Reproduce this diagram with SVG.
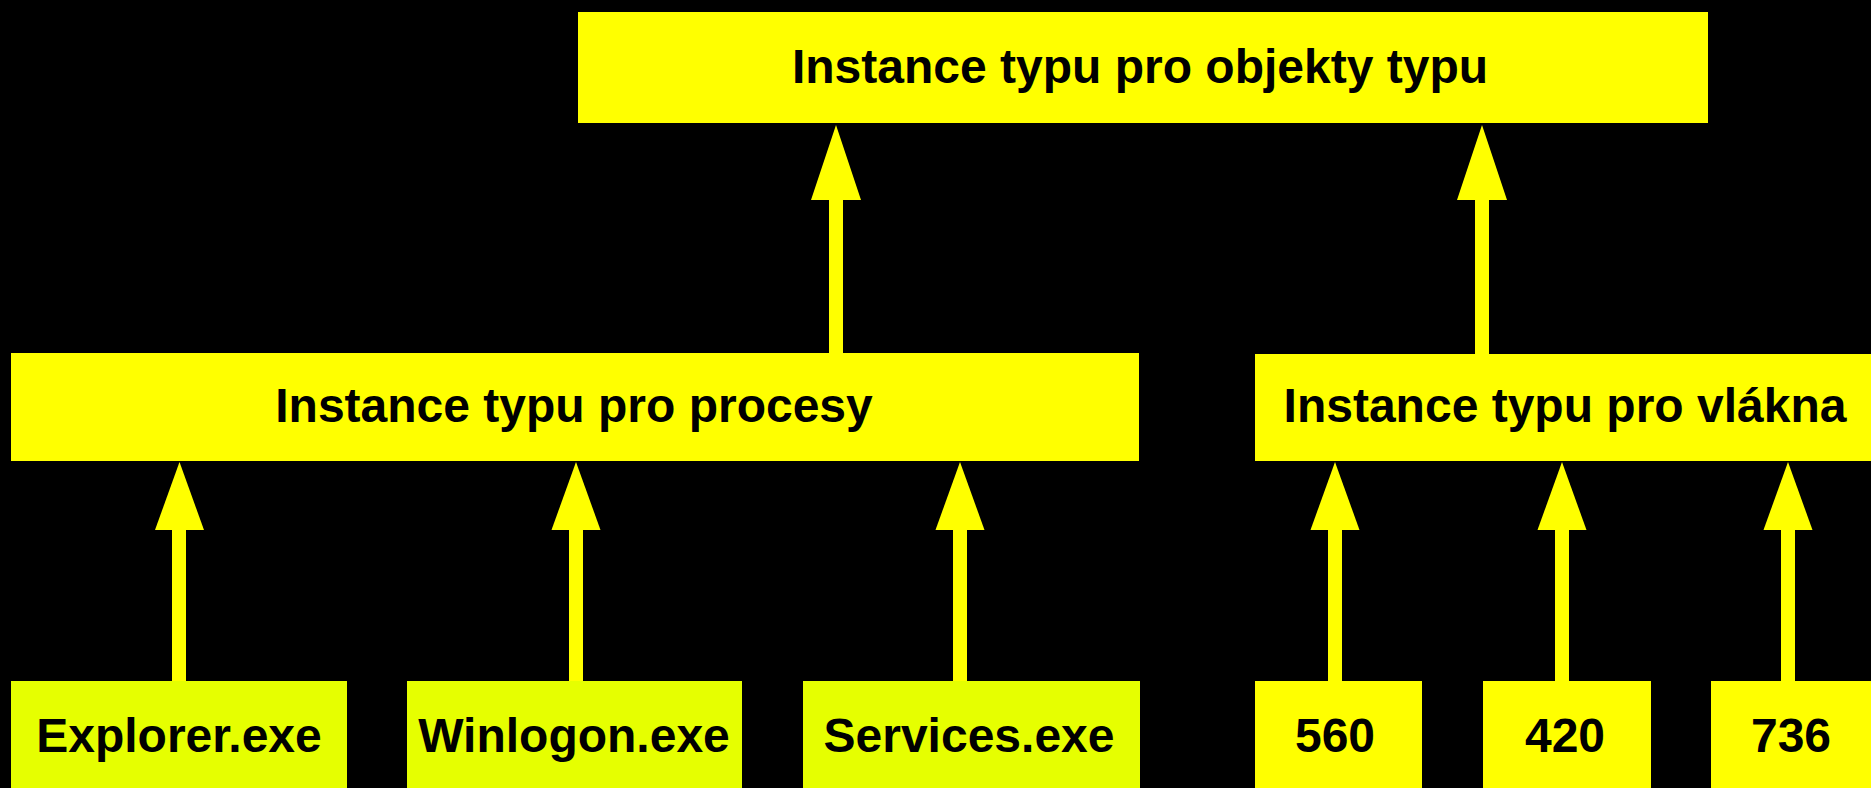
<svg xmlns="http://www.w3.org/2000/svg" width="1871" height="788" viewBox="0 0 1871 788">
  <style>
    .box { fill: #ffff00; }
    .box2 { fill: #e6ff00; }
    .lbl { font-family: "Liberation Sans", Arial, sans-serif; font-weight: bold; font-size: 48px; fill: #000000; text-anchor: middle; }
    .arr { fill: #ffff00; }
  </style>
  <rect x="0" y="0" width="1871" height="788" fill="#000000"/>
  <g id="connectors">
    <g class="arr">
      <rect x="829" y="195" width="14" height="158"/>
      <polygon points="836,125 861,200 811,200"/>
      <rect x="1475" y="195" width="14" height="159"/>
      <polygon points="1482,125 1507,200 1457,200"/>
      <rect x="172" y="525" width="14" height="156"/>
      <polygon points="179.5,462 204,530 155,530"/>
      <rect x="569" y="525" width="14" height="156"/>
      <polygon points="576,462 600.5,530 551.5,530"/>
      <rect x="953" y="525" width="14" height="156"/>
      <polygon points="960,462 984.5,530 935.5,530"/>
      <rect x="1328" y="525" width="14" height="156"/>
      <polygon points="1335,462 1359.5,530 1310.5,530"/>
      <rect x="1555" y="525" width="14" height="156"/>
      <polygon points="1562,462 1586.5,530 1537.5,530"/>
      <rect x="1781" y="525" width="14" height="156"/>
      <polygon points="1788,462 1812.5,530 1763.5,530"/>
    </g>
  </g>
  <g id="node-top">
    <rect class="box" x="578" y="12" width="1130" height="111"/>
    <text class="lbl" x="1140" y="83">Instance typu pro objekty typu</text>
  </g>
  <g id="node-procesy">
    <rect class="box" x="11" y="353" width="1128" height="108"/>
    <text class="lbl" x="574" y="422">Instance typu pro procesy</text>
  </g>
  <g id="node-vlakna">
    <rect class="box" x="1255" y="354" width="625" height="107"/>
    <text class="lbl" x="1565" y="422">Instance typu pro vlákna</text>
  </g>
  <g id="node-explorer">
    <rect class="box2" x="11" y="681" width="336" height="110"/>
    <text class="lbl" x="179" y="752">Explorer.exe</text>
  </g>
  <g id="node-winlogon">
    <rect class="box2" x="407" y="681" width="335" height="110"/>
    <text class="lbl" x="574" y="752">Winlogon.exe</text>
  </g>
  <g id="node-services">
    <rect class="box2" x="803" y="681" width="337" height="110"/>
    <text class="lbl" x="969" y="752">Services.exe</text>
  </g>
  <g id="node-560">
    <rect class="box" x="1255" y="681" width="167" height="110"/>
    <text class="lbl" x="1335" y="752">560</text>
  </g>
  <g id="node-420">
    <rect class="box" x="1483" y="681" width="168" height="110"/>
    <text class="lbl" x="1565" y="752">420</text>
  </g>
  <g id="node-736">
    <rect class="box" x="1711" y="681" width="167" height="110"/>
    <text class="lbl" x="1791" y="752">736</text>
  </g>
</svg>
